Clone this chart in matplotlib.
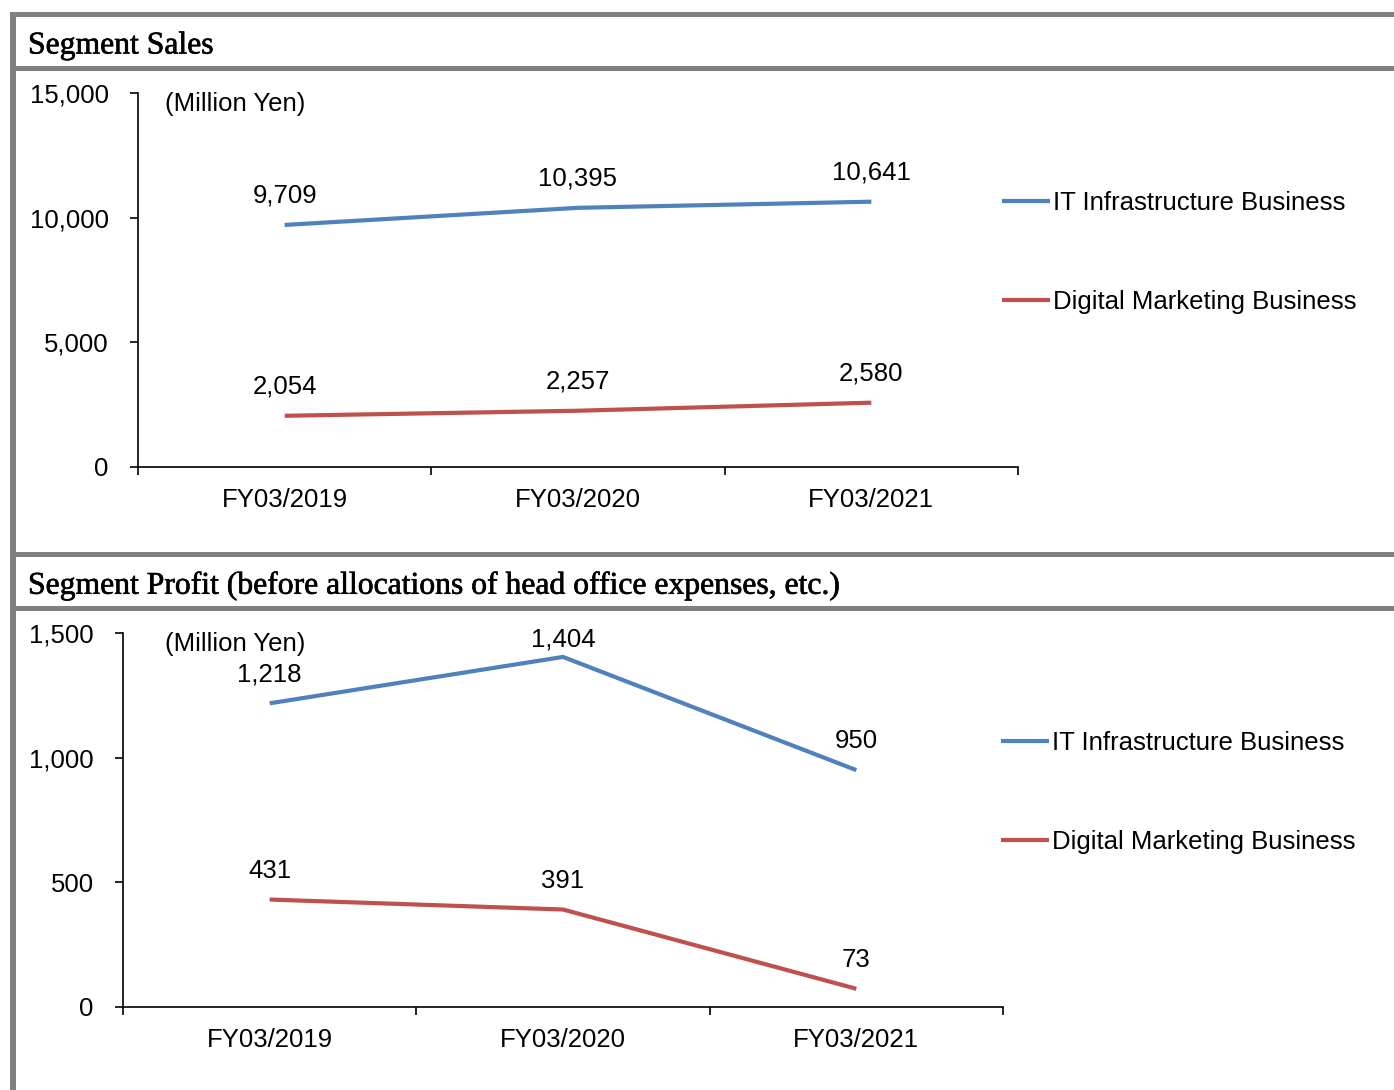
import matplotlib.pyplot as plt
from matplotlib.patches import Rectangle
import matplotlib.patheffects as pe
import numpy as np

# data
years = ['FY03/2019', 'FY03/2020', 'FY03/2021']
sales_it = [9709, 10395, 10641]
sales_dm = [2054, 2257, 2580]
profit_it = [1218, 1404, 950]
profit_dm = [431, 391, 73]

W, H = 1394, 1090
blue = '#4F81BD'
red = '#C0504D'
grey = '#808080'

plt.rcParams['font.family'] = ['Liberation Sans', 'DejaVu Sans']
fs = 18.5

fig = plt.figure(figsize=(W / 100, H / 100), dpi=100)

def fx(x):
    return x / W

def fy(y):
    return 1 - y / H

#gray frame bands (pixel coords)
def band(x0, y0, x1, y1):
    fig.add_artist(Rectangle((fx(x0), fy(y1)), fx(x1) - fx(x0), fy(y0) - fy(y1),
                             transform=fig.transFigure, color=grey, lw=0, zorder=0))

band(10, 12, W, 17)
band(10, 12, 16, H)
band(16, 66, W, 71)
band(16, 552, W, 557)
band(16, 606, W, 611)

title_fx = [pe.withStroke(linewidth=0.45, foreground='black')]
fig.text(fx(28), fy(46), 'Segment Sales', family='Liberation Serif', fontsize=22.8,
         va='center', ha='left', path_effects=title_fx)
fig.text(fx(28), fy(586), 'Segment Profit (before allocations of head office expenses, etc.)',
         family='Liberation Serif', fontsize=22.8, va='center', ha='left', path_effects=title_fx)


def panel(left, top, bottom, ymax, ystep, it, dm, leg_x, leg_y):
    ax = fig.add_axes([fx(left), fy(bottom), fx(880), (bottom - top) / H])
    x = np.arange(len(years))
    l1, = ax.plot(x, it, color=blue, lw=3, solid_capstyle='butt')
    l2, = ax.plot(x, dm, color=red, lw=3, solid_capstyle='butt')
    ax.set_xlim(-0.5, len(years) - 0.5)
    ax.set_ylim(0, ymax)
    # labels ~29px above the point, but kept inside the plot area (like excel does)
    px_per_unit = (bottom - top) / ymax
    for xi, v in list(zip(x, it)) + list(zip(x, dm)):
        off = min(29, (ymax - v) * px_per_unit - 7)
        ax.annotate(f'{v:,}', (xi, v), xytext=(0, off), textcoords='offset pixels',
                    ha='center', va='center', fontsize=fs)
    ax.set_yticks(np.arange(0, ymax + 1, ystep))
    ax.set_yticklabels([f'{int(v):,}' for v in np.arange(0, ymax + 1, ystep)])
    ax.set_xticks(x)
    ax.set_xticklabels(years)
    ax.set_xticks(np.arange(-0.5, len(years), 1), minor=True)
    ax.tick_params(axis='x', which='major', length=0, pad=15, labelsize=fs)
    ax.tick_params(axis='x', which='minor', length=6, width=1.2, direction='out')
    ax.tick_params(axis='y', length=6, width=1.2, direction='out', pad=15, labelsize=fs)
    for s in ['top', 'right']:
        ax.spines[s].set_visible(False)
    for s in ['left', 'bottom']:
        ax.spines[s].set_linewidth(1.2)
    fig.text(fx(165), fy(top + 11), '(Million Yen)', fontsize=fs, ha='left', va='center')
    ax.legend([l1, l2], ['IT Infrastructure Business', 'Digital Marketing Business'],
              loc='upper left', bbox_to_anchor=(fx(leg_x), fy(leg_y)),
              bbox_transform=fig.transFigure, frameon=False, fontsize=fs,
              handlelength=1.85, handletextpad=0.15, labelspacing=2.93,
              borderpad=0, borderaxespad=0)
    return ax

panel(138, 93, 467, 15000, 5000, sales_it, sales_dm, 1002, 191)
panel(123, 633, 1007, 1500, 500, profit_it, profit_dm, 1001, 731)

fig.savefig('out.png', dpi=100)
